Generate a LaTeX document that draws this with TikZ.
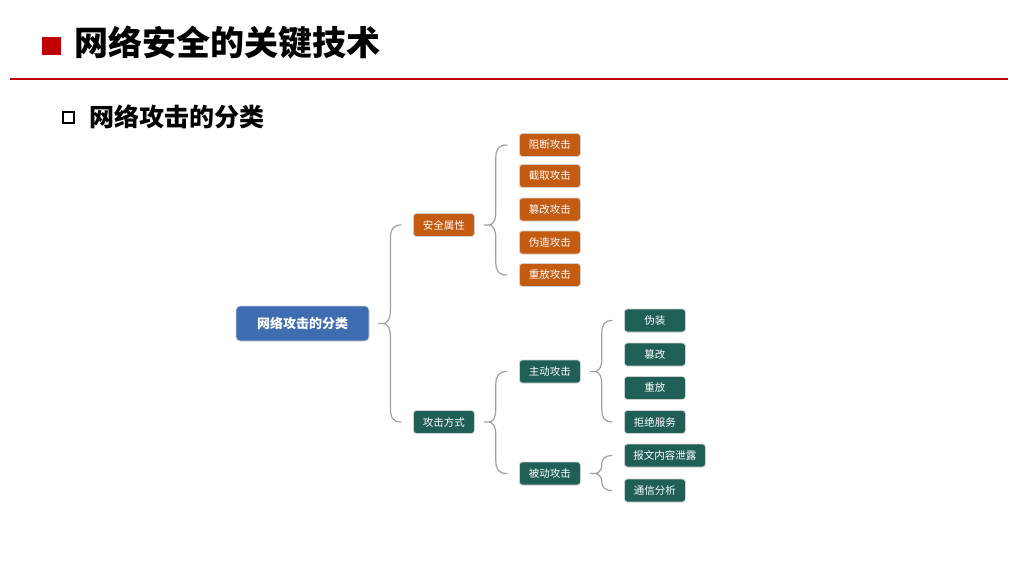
\documentclass[tikz,border=0pt]{standalone}
\usepackage{fontspec}
\newfontfamily\cjk{Noto Sans CJK SC}
\usetikzlibrary{calc}
\definecolor{titlered}{HTML}{C00000}
\definecolor{orangebox}{HTML}{C55A11}
\definecolor{tealbox}{HTML}{1F5F56}
\definecolor{bluebox}{HTML}{3D6DB0}
\definecolor{bracegray}{HTML}{A0A0A0}
\tikzset{
  box/.style={rounded corners=3pt, draw=black!18, line width=0.8pt, text=white,
    font=\cjk\fontsize{10.5}{12}\selectfont, minimum height=23pt, minimum width=61pt,
    inner sep=2pt, anchor=west},
  obox/.style={box, fill=orangebox},
  tbox/.style={box, fill=tealbox},
  rootbox/.style={rounded corners=4pt, draw=black!18, line width=0.8pt, fill=bluebox,
    text=white, font=\cjk\bfseries\fontsize{13}{15}\selectfont,
    minimum width=133pt, minimum height=35pt},
  bracestyle/.style={draw=bracegray, line width=1.2pt, line cap=round}
}
% #1 parent, #2 top child, #3 bottom child, #4 curve radius
\newcommand\mybrace[4]{%
  \draw[bracestyle] let \p1=(#1.east), \p2=(#2.west), \p3=(#3.west) in
  (\x2-12pt,\y2) .. controls (\x1+24pt,\y2) and (\x1+21pt,\y2-4pt) .. (\x1+21pt,\y2-#4pt)
  -- (\x1+21pt,\y1+#4pt) .. controls (\x1+21pt,\y1+3pt) and (\x1+17pt,\y1) .. (\x1+14pt,\y1)
  -- (\x1+9pt,\y1) -- (\x1+14pt,\y1)
  .. controls (\x1+17pt,\y1) and (\x1+21pt,\y1-3pt) .. (\x1+21pt,\y1-#4pt)
  -- (\x1+21pt,\y3+#4pt) .. controls (\x1+21pt,\y3+4pt) and (\x1+24pt,\y3) .. (\x2-12pt,\y3);}
\begin{document}
\begin{tikzpicture}[x=1pt,y=-1pt]
\useasboundingbox[fill=white] (0,0) rectangle (1024,576);
% header
\fill[titlered] (42,37) rectangle (61,55);
\node[anchor=west, inner sep=0, font=\cjk\bfseries\fontsize{34}{40}\selectfont] (title) at (74,43) {网络安全的关键技术};
\draw[titlered, line width=2pt] (10,79) -- (1008,79);
\draw[black, line width=1.8pt] (63,112) rectangle (74,123);
\node[anchor=west, inner sep=0, font=\cjk\bfseries\fontsize{25}{30}\selectfont] (sub) at (89,117) {网络攻击的分类};
% nodes
\node[rootbox] (root) at (302.5,323.5) {网络攻击的分类};
\node[obox] (sx) at (413,225) {安全属性};
\node[obox] (a1) at (519,145) {阻断攻击};
\node[obox] (a2) at (519,176) {截取攻击};
\node[obox] (a3) at (519,209.5) {篡改攻击};
\node[obox] (a4) at (519,242.5) {伪造攻击};
\node[obox] (a5) at (519,275) {重放攻击};
\node[tbox] (fs) at (413,422) {攻击方式};
\node[tbox] (zd) at (519,371.5) {主动攻击};
\node[tbox] (bd) at (519,473.5) {被动攻击};
\node[tbox] (z1) at (624,320.5) {伪装};
\node[tbox] (z2) at (624,354.5) {篡改};
\node[tbox] (z3) at (624,388) {重放};
\node[tbox] (z4) at (624,422) {拒绝服务};
\node[tbox, minimum width=81pt] (b1) at (624,455.5) {报文内容泄露};
\node[tbox] (b2) at (624,490.5) {通信分析};
% braces
\mybrace{root}{sx}{fs}{14}
\mybrace{sx}{a1}{a5}{13}
\mybrace{fs}{zd}{bd}{13}
\mybrace{zd}{z1}{z4}{13}
\mybrace{bd}{b1}{b2}{8}
\end{tikzpicture}
\end{document}
